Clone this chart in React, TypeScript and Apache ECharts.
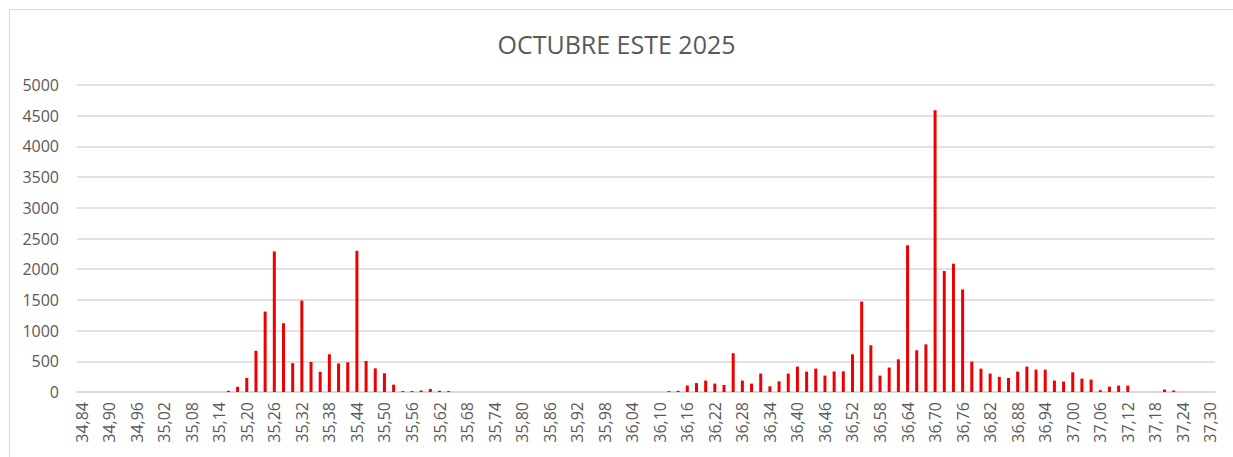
import React, { useEffect, useRef } from "react";
import * as echarts from "echarts";

const titleText = "OCTUBRE ESTE 2025";

// categories 34,84 … 37,30 in steps of 0,02
const categories: string[] = [
  "34,84","34,86","34,88","34,90","34,92","34,94","34,96","34,98","35,00","35,02",
  "35,04","35,06","35,08","35,10","35,12","35,14","35,16","35,18","35,20","35,22",
  "35,24","35,26","35,28","35,30","35,32","35,34","35,36","35,38","35,40","35,42",
  "35,44","35,46","35,48","35,50","35,52","35,54","35,56","35,58","35,60","35,62",
  "35,64","35,66","35,68","35,70","35,72","35,74","35,76","35,78","35,80","35,82",
  "35,84","35,86","35,88","35,90","35,92","35,94","35,96","35,98","36,00","36,02",
  "36,04","36,06","36,08","36,10","36,12","36,14","36,16","36,18","36,20","36,22",
  "36,24","36,26","36,28","36,30","36,32","36,34","36,36","36,38","36,40","36,42",
  "36,44","36,46","36,48","36,50","36,52","36,54","36,56","36,58","36,60","36,62",
  "36,64","36,66","36,68","36,70","36,72","36,74","36,76","36,78","36,80","36,82",
  "36,84","36,86","36,88","36,90","36,92","36,94","36,96","36,98","37,00","37,02",
  "37,04","37,06","37,08","37,10","37,12","37,14","37,16","37,18","37,20","37,22",
  "37,24","37,26","37,28","37,30"
];

const values: number[] = [
  0,0,0,0,0,0,0,0,0,0,
  0,0,0,0,0,0,20,85,230,670,
  1310,2290,1120,470,1490,490,330,615,465,485,
  2300,505,385,305,120,15,15,25,50,20,
  15,0,0,0,0,0,0,0,0,0,
  0,0,0,0,0,0,0,0,0,0,
  0,0,0,0,15,20,105,145,186,137,
  114,631,186,137,300,93,174,300,414,332,
  381,267,335,337,614,1473,761,267,398,533,
  2390,680,776,4590,1970,2090,1670,495,380,300,
  248,228,332,414,365,365,186,170,321,218,
  202,30,88,104,104,0,0,0,40,25,
  0,0,0,0
];

const yTicks = { min: 0, max: 5000, interval: 500 };

export default function App() {
  const ref = useRef<HTMLDivElement>(null);
  useEffect(() => {
    if (!ref.current) return;
    const chart = echarts.init(ref.current, null, { renderer: "svg" });
    const font = "'Open Sans', 'Liberation Sans', sans-serif";
    chart.setOption({
      animation: false,
      backgroundColor: "#ffffff",
      textStyle: { fontFamily: font },
      title: {
        text: titleText,
        left: "center",
        top: 26,
        textStyle: { fontFamily: font, fontSize: 25, fontWeight: "normal", color: "#595959" },
      },
      graphic: [
        {
          type: "rect",
          left: 7,
          top: 7,
          shape: { width: 1232, height: 460 },
          style: { fill: "none", stroke: "#d9d9d9", lineWidth: 1 },
          silent: true,
        },
      ],
      grid: { left: 77, right: 18, top: 85, bottom: 65 },
      xAxis: {
        type: "category",
        data: categories,
        boundaryGap: true,
        axisLine: { show: true, lineStyle: { color: "#d9d9d9", width: 1.5 } },
        axisTick: { show: false },
        axisLabel: {
          interval: 2,
          rotate: 90,
          margin: 10,
          color: "#595959",
          fontSize: 16,
          fontFamily: font,
        },
      },
      yAxis: {
        type: "value",
        min: yTicks.min,
        max: yTicks.max,
        interval: yTicks.interval,
        axisLine: { show: false },
        axisTick: { show: false },
        splitLine: { lineStyle: { color: "#d9d9d9", width: 1.5 } },
        axisLabel: {
          color: "#595959",
          fontSize: 16,
          margin: 18,
          fontFamily: font,
          formatter: (v: number) => String(v),
        },
      },
      series: [
        {
          type: "bar",
          data: values,
          barWidth: 3,
          itemStyle: { color: "#ee0000" },
        },
      ],
    });
    return () => chart.dispose();
  }, []);
  return (
    <div
      ref={ref}
      style={{ position: "absolute", left: 0, top: 0, width: 1233, height: 457 }}
    />
  );
}
